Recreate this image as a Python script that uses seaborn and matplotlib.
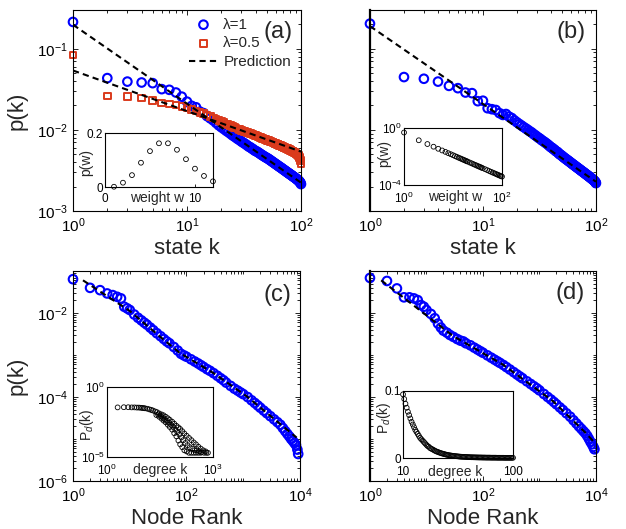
import numpy as np
import matplotlib
matplotlib.use("Agg")
import matplotlib.pyplot as plt
import seaborn as sns
from matplotlib.ticker import FixedLocator, LogLocator, NullLocator, NullFormatter

sns.set_style("ticks", {"xtick.direction": "in", "ytick.direction": "in"})
plt.rcParams["font.family"] = ["Liberation Sans", "DejaVu Sans"]
plt.rcParams["mathtext.fontset"] = "custom"
plt.rcParams["mathtext.rm"] = "Liberation Sans"
plt.rcParams["mathtext.it"] = "Liberation Sans:italic"

BLUE = "#0000ff"
RED = "#da3a1c"

# ---- panel (a) / (b): stationary state distribution, k = 1..100
state_k = list(range(1, 101))
p_lam1 = [0.214, 0.0435, 0.0394, 0.0384, 0.0377, 0.0318, 0.0312, 0.0289, 0.0257, 0.0223,
          0.0198, 0.0190, 0.0168, 0.0161, 0.0148, 0.0139, 0.0131, 0.0122, 0.0114, 0.0108,
          0.0103, 0.0098, 0.0094, 0.0090, 0.0086, 0.0083, 0.0080, 0.0077, 0.0075, 0.0072,
          0.0070, 0.0068, 0.0066, 0.0064, 0.0062, 0.0061, 0.0059, 0.0058, 0.0056, 0.0055,
          0.00542, 0.00530, 0.00518, 0.00507, 0.00496, 0.00486, 0.00477, 0.00468, 0.00460, 0.00452,
          0.00446, 0.00438, 0.00430, 0.00422, 0.00414, 0.00407, 0.00400, 0.00393, 0.00386, 0.00380,
          0.00374, 0.00368, 0.00362, 0.00356, 0.00351, 0.00346, 0.00341, 0.00336, 0.00331, 0.00326,
          0.00321, 0.00317, 0.00313, 0.00308, 0.00304, 0.00300, 0.00296, 0.00292, 0.00289, 0.00285,
          0.00282, 0.00278, 0.00275, 0.00272, 0.00268, 0.00265, 0.00262, 0.00259, 0.00256, 0.00253,
          0.00250, 0.00247, 0.00244, 0.00241, 0.00238, 0.00235, 0.00231, 0.00227, 0.00222, 0.00215]
p_lam05 = [0.0843, 0.0263, 0.0258, 0.0246, 0.0230, 0.0214, 0.0210, 0.0204, 0.0194, 0.0185,
           0.0178, 0.0171, 0.0165, 0.0159, 0.0153, 0.0147, 0.0141, 0.0136, 0.0131, 0.0127,
           0.0123, 0.0119, 0.0116, 0.0113, 0.0110, 0.0107, 0.0105, 0.0103, 0.0101, 0.0099,
           0.00975, 0.00960, 0.00945, 0.00930, 0.00915, 0.00901, 0.00888, 0.00875, 0.00862, 0.00850,
           0.00839, 0.00828, 0.00817, 0.00807, 0.00797, 0.00787, 0.00778, 0.00769, 0.00760, 0.00752,
           0.00744, 0.00736, 0.00728, 0.00720, 0.00713, 0.00706, 0.00699, 0.00692, 0.00685, 0.00678,
           0.00671, 0.00665, 0.00659, 0.00653, 0.00647, 0.00641, 0.00635, 0.00629, 0.00623, 0.00617,
           0.00611, 0.00606, 0.00601, 0.00596, 0.00591, 0.00586, 0.00581, 0.00576, 0.00571, 0.00566,
           0.00561, 0.00556, 0.00551, 0.00546, 0.00541, 0.00536, 0.00531, 0.00526, 0.00520, 0.00514,
           0.00508, 0.00502, 0.00496, 0.00489, 0.00481, 0.00470, 0.00458, 0.00443, 0.00422, 0.00388]
p_b = [0.204, 0.0448, 0.0427, 0.0394, 0.0349, 0.0327, 0.0289, 0.0284, 0.0226, 0.0229,
       0.0185, 0.0180, 0.0176, 0.0161, 0.0153, 0.0157, 0.0146, 0.0140, 0.0131, 0.0124,
       0.0118, 0.0113, 0.0108, 0.0104, 0.0100, 0.0096, 0.0093, 0.0089, 0.0086, 0.0083,
       0.0080, 0.0078, 0.0075, 0.0073, 0.0071, 0.0069, 0.0067, 0.0065, 0.0063, 0.0061,
       0.0060, 0.0058, 0.0057, 0.0055, 0.0054, 0.0053, 0.0051, 0.0050, 0.0049, 0.0048,
       0.00468, 0.00458, 0.00449, 0.00440, 0.00432, 0.00424, 0.00416, 0.00409, 0.00401, 0.00394,
       0.00387, 0.00380, 0.00374, 0.00368, 0.00362, 0.00356, 0.00350, 0.00345, 0.00340, 0.00335,
       0.00330, 0.00325, 0.00320, 0.00316, 0.00311, 0.00307, 0.00303, 0.00299, 0.00295, 0.00291,
       0.00287, 0.00283, 0.00280, 0.00276, 0.00273, 0.00269, 0.00266, 0.00263, 0.00260, 0.00256,
       0.00253, 0.00250, 0.00247, 0.00244, 0.00241, 0.00238, 0.00234, 0.00231, 0.00227, 0.00221]
pred_k = [1, 100]
pred_lam1 = [0.198, 0.00224]
pred_lam05 = [0.054, 0.0054]
pred_b = [0.19, 0.0023]

# insets (a), (b): weight distributions
w_a = list(range(1, 13))
pw_a = [0.001, 0.016, 0.044, 0.090, 0.133, 0.162, 0.162, 0.138, 0.103, 0.068, 0.041, 0.021]
w_b = list(range(1, 21)) + list(range(22, 41, 2)) + list(range(45, 101, 5))
pw_b = [0.48, 0.137, 0.0747, 0.0485, 0.0347, 0.0264, 0.0210, 0.0171, 0.0144, 0.0123,
        0.0106, 0.00933, 0.00828, 0.00741, 0.00668, 0.00606, 0.00554, 0.00508, 0.00468, 0.00434,
        0.00376, 0.00330, 0.00293, 0.00262, 0.00236, 0.00214, 0.00196, 0.00180, 0.00166, 0.00153,
        0.00129, 0.00110, 0.000951, 0.000835, 0.000740, 0.000662, 0.000597, 0.000542, 0.000495,
        0.000454, 0.000419, 0.000388]

# ---- panel (c) / (d): rank distributions
rank_c = [1, 2, 3, 4, 5, 6, 7, 8, 9, 10, 12, 14, 16, 18, 20, 23, 26, 30, 35, 40, 45, 50,
          60, 70, 80, 90, 100, 120, 140, 160, 180, 200, 230, 260, 300, 350, 400, 450, 500,
          600, 700, 800, 900, 1000, 1200, 1400, 1600, 1800, 2000, 2300, 2600, 3000, 3500,
          4000, 4500, 5000, 5500, 6000, 6500, 7000, 7500, 8000, 8500, 9000, 9300]
p_c = [0.0638, 0.0397, 0.0350, 0.0292, 0.0267, 0.0243, 0.0223, 0.0141, 0.0129, 0.0118,
       0.0092, 0.0077, 0.0067, 0.0059, 0.0053, 0.0045, 0.0039, 0.0033, 0.0028, 0.0024, 0.0021, 0.0019,
       0.00155, 0.00128, 0.00107, 0.00098, 0.00091, 0.00079, 0.00070, 0.00063, 0.00057, 0.00052,
       0.00046, 0.00042, 0.00037, 0.00032, 0.00028, 0.00025, 0.00022,
       0.000184, 0.000158, 0.000142, 0.000128, 0.000117, 0.0000995, 0.0000835, 0.000072, 0.000063,
       0.0000556, 0.0000474, 0.0000412, 0.000035, 0.0000294, 0.0000252, 0.0000219, 0.0000182,
       0.0000154, 0.0000132, 0.0000115, 0.0000100, 0.0000090, 0.0000080, 0.0000072, 0.0000056, 0.0000044]
pred_rank_c = [1.5, 10, 34, 77, 297, 1150, 4440, 8730]
pred_c = [0.060, 0.0112, 0.00275, 0.00111, 0.000374, 0.000104, 0.000023, 0.0000108]

rank_d = [1, 2, 3, 4, 5, 6, 7, 8, 9, 10, 12, 14, 16, 18, 20, 23, 26, 30, 35, 40, 45, 50,
          60, 70, 80, 90, 100, 120, 140, 160, 180, 200, 230, 260, 300, 350, 400, 450, 500,
          600, 700, 800, 900, 1000, 1200, 1400, 1600, 1800, 2000, 2300, 2600, 3000, 3500,
          4000, 4500, 5000, 5500, 6000, 6500, 7000, 7500, 8000, 8500, 9000, 9400]
p_d = [0.0684, 0.058, 0.0385, 0.0236, 0.0236, 0.0223, 0.0203, 0.0155, 0.0141, 0.0118,
       0.0095, 0.0075, 0.0056, 0.0045, 0.0038, 0.0034, 0.0030, 0.0027, 0.0024, 0.0022, 0.0021, 0.0019,
       0.0017, 0.0015, 0.00135, 0.00123, 0.00113, 0.00098, 0.000865, 0.000776, 0.000706, 0.000648,
       0.000578, 0.000515, 0.000451, 0.000391, 0.000344, 0.000308, 0.000279,
       0.000236, 0.000204, 0.00018, 0.000161, 0.000144, 0.000118, 0.0001, 0.000087, 0.000076,
       0.000067, 0.0000566, 0.000049, 0.000041, 0.000034, 0.0000279, 0.0000235, 0.00002,
       0.0000175, 0.0000154, 0.0000137, 0.0000119, 0.0000101, 0.0000086, 0.0000075, 0.0000065, 0.0000057]
pred_rank_d = [1.58, 30, 226, 1733, 6760, 8850]
pred_d = [0.060, 0.0028, 0.00059, 0.00008, 0.0000135, 0.000009]

# inset (c): degree distribution, log-log
deg_c = ([2, 3, 4, 5, 6, 7, 8, 9, 10, 11, 12, 14, 16, 18, 20, 23, 26, 30, 35]
         + [40, 46, 53, 60, 70, 80, 92, 105, 118, 135, 155, 180, 210, 245, 285, 330, 385, 450, 530, 620, 720]
         + [25, 30, 35, 40, 46, 53, 60, 70, 80, 92, 105, 118, 135, 155, 180, 210, 245, 285, 330, 385, 450]
         + [28, 33, 38, 43, 50, 57, 65, 75, 86, 98, 112, 128, 145, 165, 190, 220, 260, 300, 350, 410, 480, 560, 650])
pd_c = ([0.035, 0.036, 0.036, 0.035, 0.035, 0.034, 0.034, 0.033, 0.032, 0.031, 0.030, 0.028, 0.025,
         0.023, 0.021, 0.018, 0.016, 0.013, 0.011]
        + [0.0095, 0.0075, 0.0058, 0.0045, 0.0033, 0.0024, 0.0017, 0.0013, 0.0010, 0.0007, 0.00048,
           0.00033, 0.00023, 0.00016, 0.00011, 0.00008, 0.000055, 0.00004, 0.00003, 0.000025, 0.00002]
        + [0.010, 0.0075, 0.0055, 0.0040, 0.0030, 0.0020, 0.0014, 0.0009, 0.0005, 0.0003, 0.00015,
           0.00008, 0.00005, 0.00003, 0.000025, 0.00002, 0.00002, 0.00002, 0.00002, 0.00002, 0.00002]
        + [0.011, 0.0085, 0.0065, 0.005, 0.0038, 0.0028, 0.002, 0.0014, 0.0009, 0.0006, 0.0004,
           0.00025, 0.00016, 0.0001, 0.00007, 0.00005, 0.00004, 0.00003, 0.00003, 0.000025,
           0.000022, 0.00002, 0.00002])

# inset (d): degree distribution, linear
deg_d = list(range(10, 101))
pd_d = [0.095, 0.088, 0.081, 0.075, 0.069, 0.064, 0.059, 0.054, 0.050, 0.046,
        0.042, 0.039, 0.036, 0.033, 0.030, 0.028, 0.026, 0.024, 0.022, 0.020,
        0.018, 0.017, 0.015, 0.014, 0.013, 0.012, 0.011, 0.010, 0.0093, 0.0086,
        0.0079, 0.0073, 0.0067, 0.0062, 0.0057, 0.0052, 0.0048, 0.0044, 0.0041, 0.0038,
        0.0035,
        0.0032, 0.0030, 0.0028, 0.0026, 0.0024, 0.0022, 0.0020, 0.0019, 0.0018, 0.0017,
        0.0016, 0.0015, 0.0014, 0.0013, 0.0012, 0.0011, 0.0011, 0.0010, 0.0010, 0.0009,
        0.0009, 0.0008, 0.0008, 0.0008, 0.0007, 0.0007, 0.0007, 0.0006, 0.0006, 0.0006,
        0.0006, 0.0005, 0.0005, 0.0005, 0.0005, 0.0005, 0.0004, 0.0004, 0.0004, 0.0004,
        0.0004, 0.0004, 0.0003, 0.0003, 0.0003, 0.0003, 0.0003, 0.0003, 0.0003, 0.0003]

DASH = (0, (3.0, 2.0))

fig = plt.figure(figsize=(6.26, 5.29), dpi=100)


def frame(ax, lsize=11, major=3.5, minor=2.0, pad=4):
    ax.tick_params(which="both", direction="in", top=True, right=True,
                   width=0.6, colors="black", labelsize=lsize, pad=pad)
    ax.tick_params(which="major", length=major)
    ax.tick_params(which="minor", length=minor)
    for sp in ax.spines.values():
        sp.set_linewidth(0.8)
        sp.set_color("black")
        sp.set_visible(True)


def log_axes(ax, xmaj, ymaj):
    ax.set_xscale("log")
    ax.set_yscale("log")
    ax.xaxis.set_major_locator(FixedLocator(xmaj))
    ax.yaxis.set_major_locator(FixedLocator(ymaj))
    ax.xaxis.set_minor_locator(LogLocator(base=10, subs=np.arange(1, 10), numticks=20))
    ax.yaxis.set_minor_locator(LogLocator(base=10, subs=np.arange(1, 10), numticks=20))
    ax.xaxis.set_minor_formatter(NullFormatter())
    ax.yaxis.set_minor_formatter(NullFormatter())


def dots(ax, x, y, color, marker="o", s=38, lw=1.5, label=None):
    sns.scatterplot(x=x, y=y, ax=ax, marker=marker, s=s, facecolor="none",
                    edgecolor=color, linewidth=lw, legend=False, label=label,
                    clip_on=False, zorder=2)


def dashed(ax, x, y, label=None):
    sns.lineplot(x=x, y=y, ax=ax, color="black", linewidth=1.5, linestyle=DASH,
                 sort=False, legend=False, label=label, zorder=3)


def panel_tag(ax, tag, x, y):
    ax.text(x, y, tag, transform=ax.transAxes, ha="center", va="center", fontsize=17)


# ---------------- (a)
ax_a = fig.add_axes([0.1166, 0.601, 0.3642, 0.38])
log_axes(ax_a, [1, 10, 100], [1e-3, 1e-2, 1e-1])
dots(ax_a, state_k, p_lam1, BLUE, label="λ=1")
dots(ax_a, state_k, p_lam05, RED, marker="s", s=22, lw=1.4, label="λ=0.5")
dashed(ax_a, pred_k, pred_lam1, label="Prediction")
dashed(ax_a, pred_k, pred_lam05)
ax_a.set_xlim(1, 100)
ax_a.set_ylim(1e-3, 0.3)
frame(ax_a)
ax_a.set_xlabel("state k", fontsize=16, labelpad=2)
ax_a.set_ylabel("p(k)", fontsize=16)
ax_a.yaxis.set_label_coords(-0.20, 0.5)
ax_a.legend(loc="upper right", bbox_to_anchor=(0.99, 1.0), frameon=False, fontsize=11,
            handlelength=1.9, handletextpad=0.35, labelspacing=0.3, borderaxespad=0.2,
            borderpad=0.3)
panel_tag(ax_a, "(a)", 0.90, 0.89)

# ---------------- (b)
ax_b = fig.add_axes([0.591, 0.601, 0.361, 0.38])
log_axes(ax_b, [1, 10, 100], [1e-3, 1e-2, 1e-1])
dots(ax_b, state_k, p_b, BLUE)
dashed(ax_b, pred_k, pred_b)
ax_b.set_xlim(1, 100)
ax_b.set_ylim(1e-3, 0.3)
frame(ax_b)
ax_b.tick_params(axis="y", labelleft=False)
ax_b.spines["left"].set_linewidth(1.6)
ax_b.set_xlabel("state k", fontsize=16, labelpad=2)
panel_tag(ax_b, "(b)", 0.89, 0.89)

# ---------------- (c)
ax_c = fig.add_axes([0.1166, 0.0907, 0.3626, 0.397])
log_axes(ax_c, [1, 100, 1e4], [1e-6, 1e-4, 1e-2])
dots(ax_c, rank_c, p_c, BLUE)
dashed(ax_c, pred_rank_c, pred_c)
ax_c.set_xlim(1, 1e4)
ax_c.set_ylim(1e-6, 1e-1)
frame(ax_c)
ax_c.set_xlabel("Node Rank", fontsize=16, labelpad=2)
ax_c.set_ylabel("p(k)", fontsize=16)
ax_c.yaxis.set_label_coords(-0.20, 0.5)
panel_tag(ax_c, "(c)", 0.90, 0.886)

# ---------------- (d)
ax_d = fig.add_axes([0.591, 0.0907, 0.361, 0.397])
log_axes(ax_d, [1, 100, 1e4], [1e-6, 1e-4, 1e-2])
dots(ax_d, rank_d, p_d, BLUE)
dashed(ax_d, pred_rank_d, pred_d)
ax_d.set_xlim(1, 1e4)
ax_d.set_ylim(1e-6, 1e-1)
frame(ax_d)
ax_d.tick_params(axis="y", labelleft=False)
ax_d.spines["left"].set_linewidth(1.6)
ax_d.set_xlabel("Node Rank", fontsize=16, labelpad=2)
panel_tag(ax_d, "(d)", 0.885, 0.895)


# ---------------- insets
def inset(rect):
    ax = fig.add_axes(rect)
    ax.set_facecolor("white")
    return ax


def inset_frame(ax, xpad=4):
    frame(ax, lsize=8.5, major=2.5, minor=0, pad=1.5)
    ax.tick_params(axis="x", pad=xpad)
    ax.xaxis.set_minor_locator(NullLocator())
    ax.yaxis.set_minor_locator(NullLocator())


in_a = inset([0.1677, 0.6465, 0.1725, 0.102])
dots(in_a, w_a, pw_a, "black", s=12, lw=0.6)
in_a.set_xlim(0, 12)
in_a.set_ylim(0, 0.2)
in_a.set_xticks([0, 10])
in_a.set_xticklabels(["0", "10"])
in_a.set_yticks([0, 0.2])
in_a.set_yticklabels(["0", "0.2"])
inset_frame(in_a)
in_a.set_xlabel("weight w", fontsize=10, va="top")
in_a.xaxis.set_label_coords(0.48, -0.08)
in_a.set_ylabel("p(w)", fontsize=10)
in_a.yaxis.set_label_coords(-0.11, 0.45)

in_b = inset([0.6454, 0.6503, 0.1565, 0.1078])
dots(in_b, w_b, pw_b, "black", s=12, lw=0.6)
in_b.set_xscale("log")
in_b.set_yscale("log")
in_b.set_xlim(1, 100)
in_b.set_ylim(1e-4, 1)
in_b.xaxis.set_major_locator(FixedLocator([1, 100]))
in_b.yaxis.set_major_locator(FixedLocator([1e-4, 1]))
inset_frame(in_b)
in_b.set_xlabel("weight w", fontsize=10, va="top")
in_b.xaxis.set_label_coords(0.52, -0.08)
in_b.set_ylabel("p(w)", fontsize=10)
in_b.yaxis.set_label_coords(-0.13, 0.55)

in_c = inset([0.1709, 0.1361, 0.1693, 0.1323])
dots(in_c, deg_c, pd_c, "black", s=12, lw=0.6)
in_c.set_xscale("log")
in_c.set_yscale("log")
in_c.set_xlim(1, 1000)
in_c.set_ylim(1e-5, 1)
in_c.xaxis.set_major_locator(FixedLocator([1, 1000]))
in_c.yaxis.set_major_locator(FixedLocator([1e-5, 1]))
inset_frame(in_c)
in_c.set_xlabel("degree k", fontsize=10, va="top")
in_c.xaxis.set_label_coords(0.5, -0.08)
in_c.set_ylabel("P$_d$(k)", fontsize=10)
in_c.yaxis.set_label_coords(-0.10, 0.46)

in_d = inset([0.6438, 0.1342, 0.1757, 0.1267])
dots(in_d, deg_d, pd_d, "black", s=12, lw=0.6)
in_d.set_xlim(10, 100)
in_d.set_ylim(0, 0.1)
in_d.set_xticks([10, 100])
in_d.set_xticklabels(["10", "100"])
in_d.set_yticks([0, 0.1])
in_d.set_yticklabels(["0", "0.1"])
inset_frame(in_d, xpad=6)
in_d.set_xlabel("degree k", fontsize=10, va="top")
in_d.xaxis.set_label_coords(0.47, -0.10)
in_d.set_ylabel("P$_d$(k)", fontsize=10)
in_d.yaxis.set_label_coords(-0.09, 0.6)

fig.savefig("out.png", dpi=100)
